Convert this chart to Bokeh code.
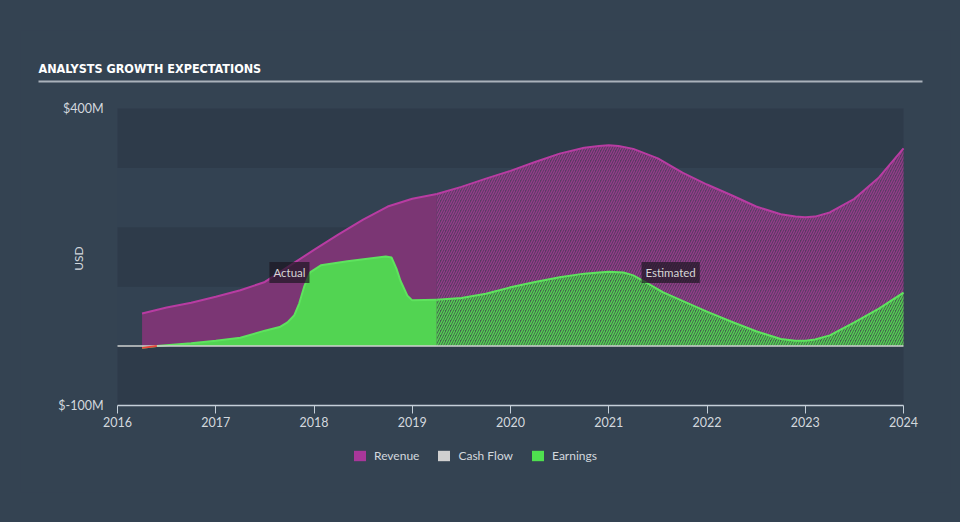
from math import pi
from bokeh.plotting import figure
from bokeh.models import Range1d, FixedTicker, Label, Legend, LegendItem
from bokeh.core.properties import value
from bokeh.embed import file_html
from bokeh.resources import INLINE

# ---------------- data (USD millions, decimal years) ----------------
rev_actual_x = [2016.25, 2016.5, 2016.75, 2017.0, 2017.25, 2017.5, 2017.75, 2018.0,
                2018.25, 2018.5, 2018.75, 2019.0, 2019.25]
rev_actual_y = [55, 65, 73, 83, 94, 108, 135, 162, 188, 213, 235, 248, 256]

rev_est_x = [2019.25, 2019.5, 2019.75, 2020.0, 2020.25, 2020.5, 2020.75, 2020.9, 2021.0,
             2021.1, 2021.25, 2021.5, 2021.75, 2022.0, 2022.25, 2022.5, 2022.75, 2022.9,
             2023.0, 2023.1, 2023.25, 2023.5, 2023.75, 2024.0]
rev_est_y = [256, 268, 282, 295, 310, 324, 334, 337, 338, 337, 332, 316, 292, 272, 254, 235,
             222, 218, 217, 218, 225, 248, 284, 333]

earn_actual_x = [2016.25, 2016.4, 2016.75, 2017.0, 2017.25, 2017.5, 2017.65, 2017.73, 2017.8,
                 2017.85, 2017.9, 2017.96, 2018.07, 2018.34, 2018.73, 2018.79, 2018.84,
                 2018.88, 2018.95, 2019.0, 2019.25]
earn_actual_y = [-3, 0, 5, 9, 14, 26, 32, 40, 52, 72, 100, 124, 136, 143, 151, 149, 130,
                 110, 85, 77, 78]

earn_est_x = [2019.25, 2019.5, 2019.75, 2020.0, 2020.25, 2020.5, 2020.75, 2020.9, 2021.0,
              2021.15, 2021.25, 2021.4, 2021.55, 2021.75, 2022.0, 2022.25, 2022.5, 2022.75,
              2022.9, 2023.0, 2023.1, 2023.25, 2023.5, 2023.75, 2024.0]
earn_est_y = [78, 81, 88, 99, 108, 116, 122, 124, 125, 124, 119, 105, 91, 76, 58, 41, 25, 12,
              9, 9, 11, 18, 40, 63, 90]

x_ticks = [2016, 2017, 2018, 2019, 2020, 2021, 2022, 2023, 2024]
y_ticks = [-100, 400]
y_tick_labels = ["$-100M", "$400M"]
band_ticks = [-100, 0, 100, 200, 300, 400]

title_text = "ANALYSTS GROWTH EXPECTATIONS"
y_title = "USD"
series_names = ["Revenue", "Cash Flow", "Earnings"]

# ---------------- layout constants (pixels) ----------------
W, H = 960, 522
PLOT_L, PLOT_R, PLOT_T, PLOT_B = 117, 903, 108, 405   # chart plot area
FRAME_L, FRAME_R, FRAME_T, FRAME_B = 20, 950, 30, 492 # bokeh frame (covers everything)
X0, X1 = x_ticks[0], x_ticks[-1]
Y0, Y1 = y_ticks[0], y_ticks[-1]
px_x = (PLOT_R - PLOT_L) / (X1 - X0)
px_y = (PLOT_B - PLOT_T) / (Y1 - Y0)


def dx(px):  # canvas x pixel -> data x
    return X0 + (px - PLOT_L) / px_x


def dy(py):  # canvas y pixel -> data y
    return Y1 - (py - PLOT_T) / px_y


# ---------------- styling ----------------
OUTER = "#344352"
DARK = "#2e3b4a"
LIGHT = "#334252"
REV_FILL = "#7b3674"
REV_LINE = "#b83ca2"
REV_SWATCH = "#a8379a"
EARN_FILL = "#52d452"
EARN_LINE = "#5ee35e"
EARN_SWATCH = "#4fe04f"
CF_SWATCH = "#d0d0d0"
NEG = "#e8453c"
TXT = "#d3d8de"
FONT = "Lato"
TITLE_FONT = "'DejaVu Sans Condensed', 'DejaVu Sans', sans-serif"
Y_STANDOFF = -60

# border fill left transparent (the element itself carries the background colour),
# which avoids a light seam around the frame in the SVG output
p = figure(width=W, height=H, output_backend="svg", toolbar_location=None,
           x_range=Range1d(dx(FRAME_L), dx(FRAME_R)),
           y_range=Range1d(dy(FRAME_B), dy(FRAME_T)),
           min_border_left=FRAME_L, min_border_right=W - FRAME_R, min_border_top=FRAME_T,
           min_border_bottom=H - FRAME_B, background_fill_color=OUTER,
           border_fill_color=None)
p.styles = {"background-color": OUTER}
p.outline_line_color = None
p.grid.visible = False
p.title.text = ""

# title and rule
p.text(x=[dx(38)], y=[dy(68)], text=[title_text], text_align="left",
       text_baseline="middle", text_color="#ffffff", text_font=value(TITLE_FONT),
       text_font_style="bold", text_font_size="12.5px")
p.segment(x0=[dx(38)], y0=[dy(81)], x1=[dx(922)], y1=[dy(81)], line_color="#aab2bb",
          line_width=2)

# plot-area bands (alternating, between the 100M gridlines)
band_mid = [(a + b) / 2 for a, b in zip(band_ticks[:-1], band_ticks[1:])]
band_h = [b - a for a, b in zip(band_ticks[:-1], band_ticks[1:])]
band_col = [DARK if i % 2 == 0 else LIGHT for i in range(len(band_mid))]
p.hbar(y=band_mid, height=band_h, left=X0, right=X1, fill_color=band_col, line_color=None)

# x axis (fixed at the bottom of the plot area)
xa = p.below[0]
xa.fixed_location = Y0
xa.bounds = (X0, X1)
xa.ticker = FixedTicker(ticks=x_ticks)
xa.major_label_overrides = {t: str(t) for t in x_ticks}
xa.axis_line_color = "#c5cfd9"
xa.axis_line_width = 1.5
xa.major_tick_line_color = "#c5cfd9"
xa.major_tick_out = 8
xa.major_tick_in = 0
xa.minor_tick_line_color = None
xa.major_label_standoff = 3
xa.major_label_text_color = TXT
xa.major_label_text_font = FONT
xa.major_label_text_font_size = "12.5px"

# y axis (labels right-aligned just left of the plot area)
ya = p.left[0]
ya.fixed_location = dx(103 + Y_STANDOFF)
ya.ticker = FixedTicker(ticks=y_ticks)
ya.major_label_overrides = dict(zip(y_ticks, y_tick_labels))
ya.axis_line_color = None
ya.major_tick_line_color = None
ya.minor_tick_line_color = None
ya.major_tick_out = 0
ya.major_tick_in = 0
ya.major_label_standoff = Y_STANDOFF
ya.major_label_text_color = TXT
ya.major_label_text_font = FONT
ya.major_label_text_font_size = "12.5px"

p.add_layout(Label(x=dx(78), y=dy(258), text=y_title, angle=pi / 2, text_align="center",
                   text_baseline="middle", text_color=TXT, text_font=FONT,
                   text_font_size="12px"))

# revenue areas
p.varea(x=rev_actual_x, y1=[0] * len(rev_actual_x), y2=rev_actual_y,
        fill_color=REV_FILL, fill_alpha=1.0)
p.varea(x=rev_est_x, y1=[0] * len(rev_est_x), y2=rev_est_y,
        fill_color=REV_FILL, fill_alpha=0.55,
        hatch_pattern="/", hatch_color="#9a3d8e", hatch_alpha=0.9,
        hatch_scale=5, hatch_weight=1.3)

# earnings areas
p.varea(x=earn_actual_x, y1=[0] * len(earn_actual_x), y2=earn_actual_y,
        fill_color=EARN_FILL, fill_alpha=1.0)
p.varea(x=earn_est_x, y1=[0] * len(earn_est_x), y2=earn_est_y,
        fill_color="#3f6e48", fill_alpha=0.85,
        hatch_pattern="/", hatch_color=EARN_FILL, hatch_alpha=1.0,
        hatch_scale=5, hatch_weight=1.3)

# lines
p.line(rev_actual_x, rev_actual_y, line_color=REV_LINE, line_width=2)
p.line(rev_est_x, rev_est_y, line_color=REV_LINE, line_width=2)
p.line(earn_actual_x, earn_actual_y, line_color=EARN_LINE, line_width=2)
p.line(earn_est_x, earn_est_y, line_color=EARN_LINE, line_width=2)

# zero line across the plot area
p.segment(x0=[X0], y0=[0], x1=[X1], y1=[0], line_color="#cfd2d0", line_width=1.5)

# negative earnings segment in red
neg_idx = [i for i, v in enumerate(earn_actual_y) if v <= 0]
p.line([earn_actual_x[i] for i in neg_idx], [earn_actual_y[i] for i in neg_idx],
       line_color=NEG, line_width=2)

# Actual / Estimated tags
for txt, xx in (("Actual", 2017.75), ("Estimated", 2021.63)):
    p.add_layout(Label(x=xx, y=124, text=txt, text_align="center", text_baseline="middle",
                       text_color="#d6d6d6", text_font=FONT, text_font_size="11.5px",
                       background_fill_color="#1d1722", background_fill_alpha=0.7,
                       padding=4))

# legend swatches (zero-height areas used only for the legend)
sw_rev = p.varea(x=[X0], y1=[0], y2=[0], fill_color=REV_SWATCH)
sw_cf = p.varea(x=[X0], y1=[0], y2=[0], fill_color=CF_SWATCH)
sw_earn = p.varea(x=[X0], y1=[0], y2=[0], fill_color=EARN_SWATCH)
legend = Legend(items=[LegendItem(label=series_names[0], renderers=[sw_rev]),
                       LegendItem(label=series_names[1], renderers=[sw_cf]),
                       LegendItem(label=series_names[2], renderers=[sw_earn])],
                orientation="horizontal", location=(352 - FRAME_L, FRAME_B - 463),
                background_fill_alpha=0, border_line_alpha=0,
                label_text_color=TXT, label_text_font=FONT, label_text_font_size="12px",
                glyph_width=15, glyph_height=13, label_height=13, label_standoff=7,
                spacing=17, padding=0, margin=0)
p.add_layout(legend)

html = file_html(p, INLINE)
html = html.replace("</head>",
                    "<style>html, body { background: %s; margin: 0; }</style></head>" % OUTER, 1)
open("out.html", "w").write(html)
